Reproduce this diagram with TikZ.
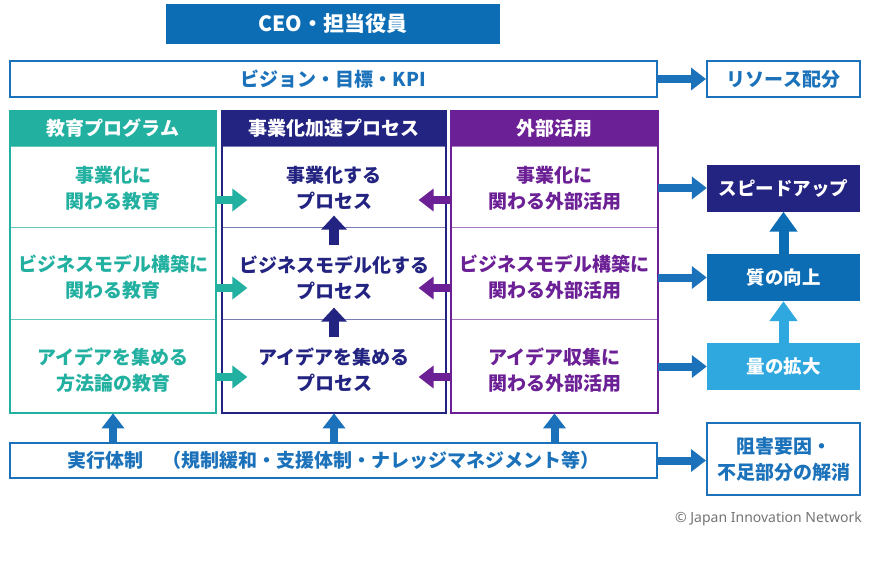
\documentclass[tikz,border=0pt]{standalone}
\usepackage{fontspec}
\setmainfont{Noto Sans CJK JP}
\newfontfamily\latinfont{Noto Sans}
\usetikzlibrary{arrows.meta,calc}

\definecolor{ceoblue}{HTML}{0C6DB5}
\definecolor{jinblue}{HTML}{1B72BA}
\definecolor{eduteal}{HTML}{22B0A0}
\definecolor{procnavy}{HTML}{232382}
\definecolor{extpurple}{HTML}{6C2096}
\definecolor{skyblue}{HTML}{2FA8DF}

\tikzset{
  txt/.style={font=\bfseries\fontsize{19}{26}\selectfont,align=center,inner sep=0pt},
  head/.style={txt,text=white,minimum height=35pt},
  cell/.style={draw,line width=0.8pt,fill=white,inner sep=0pt},
  rbox/.style={txt,text=white,minimum width=153pt,minimum height=47pt,font=\bfseries\fontsize{18.5}{24}\selectfont},
  wbox/.style={txt,draw=jinblue,line width=2pt,text=jinblue},
  fat/.style={line width=8pt,-{Triangle[length=15pt,width=22pt]}},
  bigfat/.style={line width=10pt,-{Triangle[length=20pt,width=27pt]}},
}

\begin{document}
\begin{tikzpicture}[x=1pt,y=-1pt]
  \useasboundingbox (0,0) rectangle (874,570);

  % top
  \node[head,fill=ceoblue,minimum width=334pt,minimum height=40pt,
        font=\bfseries\fontsize{21}{26}\selectfont] (ceo) at (333,24) {CEO・担当役員};
  \node[wbox,minimum width=647pt,minimum height=36pt] (vision) at (333.5,79) {ビジョン・目標・KPI};
  \node[wbox,minimum width=153pt,minimum height=36pt] (resource) at (783.5,79) {リソース配分};

  % education column
  \node[head,fill=eduteal,minimum width=206pt] (eh) at (113,128.5) {教育プログラム};
  \node[cell,draw=eduteal!70,minimum width=206pt,minimum height=81pt] (e1) at (113,186.5) {};
  \node[cell,draw=eduteal!70,minimum width=206pt,minimum height=92pt] (e2) at (113,273) {};
  \node[cell,draw=eduteal!70,minimum width=206pt,minimum height=94pt] (e3) at (113,366) {};
  \draw[eduteal,line width=2pt] (eh.north west) rectangle (e3.south east);
  \node[txt,text=eduteal] (e1t) at ($(e1)+(0,1.5)$) {事業化に\\関わる教育};
  \node[txt,text=eduteal] (e2t) at ($(e2)+(0,4.5)$) {ビジネスモデル構築に\\関わる教育};
  \node[txt,text=eduteal] (e3t) at ($(e3)+(0,4)$) {アイデアを集める\\方法論の教育};

  % process column
  \node[head,fill=procnavy,minimum width=224pt] (ph) at (334,128.5) {事業化加速プロセス};
  \node[cell,draw=procnavy!60,minimum width=224pt,minimum height=81pt] (p1) at (334,186.5) {};
  \node[cell,draw=procnavy!60,minimum width=224pt,minimum height=92pt] (p2) at (334,273) {};
  \node[cell,draw=procnavy!60,minimum width=224pt,minimum height=94pt] (p3) at (334,366) {};
  \draw[procnavy,line width=2pt] (ph.north west) rectangle (p3.south east);
  \node[txt,text=procnavy] (p1t) at ($(p1)+(0,1.5)$) {事業化する\\プロセス};
  \node[txt,text=procnavy] (p2t) at ($(p2)+(0,4.5)$) {ビジネスモデル化する\\プロセス};
  \node[txt,text=procnavy] (p3t) at ($(p3)+(0,4)$) {アイデアを集める\\プロセス};

  % external column
  \node[head,fill=extpurple,minimum width=207pt] (xh) at (554.5,128.5) {外部活用};
  \node[cell,draw=extpurple!60,minimum width=207pt,minimum height=81pt] (x1) at (554.5,186.5) {};
  \node[cell,draw=extpurple!60,minimum width=207pt,minimum height=92pt] (x2) at (554.5,273) {};
  \node[cell,draw=extpurple!60,minimum width=207pt,minimum height=94pt] (x3) at (554.5,366) {};
  \draw[extpurple,line width=2pt] (xh.north west) rectangle (x3.south east);
  \node[txt,text=extpurple] (x1t) at ($(x1)+(0,1.5)$) {事業化に\\関わる外部活用};
  \node[txt,text=extpurple] (x2t) at ($(x2)+(0,4.5)$) {ビジネスモデル構築に\\関わる外部活用};
  \node[txt,text=extpurple] (x3t) at ($(x3)+(0,4)$) {アイデア収集に\\関わる外部活用};

  % results
  \node[rbox,fill=procnavy] (speed) at (783.5,188) {スピードアップ};
  \node[rbox,fill=ceoblue] (quality) at (783.5,277.5) {質の向上};
  \node[rbox,fill=skyblue] (volume) at (783.5,366.5) {量の拡大};

  % bottom
  \node[wbox,minimum width=647pt,minimum height=35pt] (exec) at (333.5,460.5)
    {実行体制\quad（規制緩和・支援体制・ナレッジマネジメント等）};
  \node[wbox,minimum width=153pt,minimum height=72pt] (obstacle) at (783.5,459) {阻害要因・\\不足部分の解消};
  \node[anchor=east,text=black!55,font=\latinfont\fontsize{14}{16}\selectfont,inner sep=0pt] (copy) at (862,519)
    {© Japan Innovation Network};

  % arrows
  \foreach \i/\dy in {1/13.5,2/15,3/11}{
    \draw[fat,eduteal] ($(e\i.east)+(0,\dy)$) -- +(31,0);
    \draw[fat,extpurple] ($(x\i.west)+(0,\dy)$) -- +(-32,0);
  }
  \foreach \i in {2,3}
    \draw[bigfat,procnavy,-{Triangle[length=14pt,width=25pt]}] ($(p\i.north)+(0,18)$) -- ($(p\i.north)+(0,-11)$);
  \draw[fat,jinblue] (x1.east |- speed.west) -- (speed.west);
  \draw[fat,jinblue] (x2.east |- quality.west) -- (quality.west);
  \draw[fat,jinblue] (x3.east |- volume.west) -- (volume.west);
  \draw[bigfat,skyblue] (volume) -- (quality);
  \draw[bigfat,ceoblue] (quality) -- (speed);
  \draw[fat,jinblue] (vision) -- (resource);
  \draw[fat,jinblue] (exec.east) -- (obstacle.west |- exec.east);
  \foreach \c in {e3,p3,x3}
    \draw[fat,jinblue] (exec.north -| \c.south) -- (\c.south);
\end{tikzpicture}
\end{document}
